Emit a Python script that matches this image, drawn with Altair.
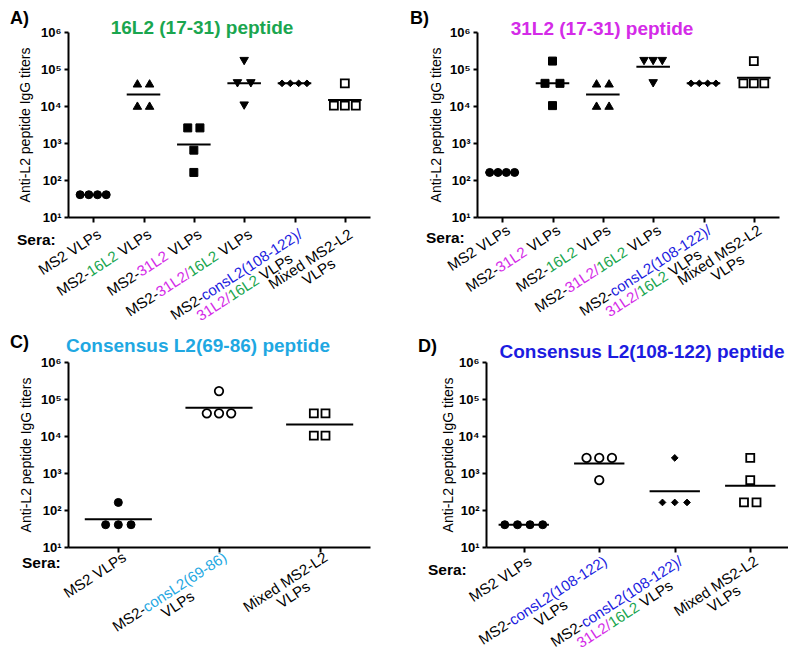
import altair as alt
import pandas as pd

FONT = "Liberation Sans"
COL = {"k": "#000000", "g": "#1aa64f", "m": "#d42be8", "b": "#1c1ce0", "c": "#1fa8e2"}

# ---------------- data ----------------
A_title = ("16L2 (17-31) peptide", "g")
A_labels = [
    [[("MS2 VLPs", "k")]],
    [[("MS2-", "k"), ("16L2", "g"), (" VLPs", "k")]],
    [[("MS2-", "k"), ("31L2", "m"), (" VLPs", "k")]],
    [[("MS2-", "k"), ("31L2/", "m"), ("16L2", "g"), (" VLPs", "k")]],
    [[("MS2-", "k"), ("consL2(108-122)/", "b")], [("31L2/", "m"), ("16L2", "g"), (" VLPs", "k")]],
    [[("Mixed MS2-L2", "k")], [("VLPs", "k")]],
]
A_shapes = ["circle", "triangle-up", "square", "triangle-down", "diamond", "square"]
A_open = [False, False, False, False, False, True]
A_values = [
    [40, 40, 40, 40],
    [40960, 40960, 10240, 10240],
    [2560, 2560, 640, 160],
    [163840, 40960, 40960, 10240],
    [40960, 40960, 40960, 40960],
    [40960, 10240, 10240, 10240],
]
A_spread = [
    [-1.5, -0.5, 0.5, 1.5],
    [-0.7, 0.7, -0.7, 0.7],
    [-0.7, 0.7, 0, 0],
    [0, -0.77, 0.77, 0],
    [-1.43, -0.48, 0.48, 1.43],
    [0, -1.26, 0, 1.26],
]

B_title = ("31L2 (17-31) peptide", "m")
B_labels = [
    [[("MS2 VLPs", "k")]],
    [[("MS2-", "k"), ("31L2", "m"), (" VLPs", "k")]],
    [[("MS2-", "k"), ("16L2", "g"), (" VLPs", "k")]],
    [[("MS2-", "k"), ("31L2/", "m"), ("16L2", "g"), (" VLPs", "k")]],
    [[("MS2-", "k"), ("consL2(108-122)/", "b")], [("31L2/", "m"), ("16L2", "g"), (" VLPs", "k")]],
    [[("Mixed MS2-L2", "k")], [("VLPs", "k")]],
]
B_shapes = ["circle", "square", "triangle-up", "triangle-down", "diamond", "square"]
B_open = [False, False, False, False, False, True]
B_values = [
    [160, 160, 160, 160],
    [163840, 40960, 40960, 10240],
    [40960, 40960, 10240, 10240],
    [163840, 163840, 163840, 40960],
    [40960, 40960, 40960, 40960],
    [163840, 40960, 40960, 40960],
]
B_spread = [
    [-1.43, -0.48, 0.48, 1.43],
    [0, -0.86, 0.86, 0],
    [-0.72, 0.72, -0.72, 0.72],
    [-1.05, 0, 1.05, 0],
    [-1.43, -0.48, 0.48, 1.43],
    [0, -1.2, 0, 1.2],
]

C_title = ("Consensus L2(69-86) peptide", "c")
C_labels = [
    [[("MS2 VLPs", "k")]],
    [[("MS2-", "k"), ("consL2(69-86)", "c")], [("VLPs", "k")]],
    [[("Mixed MS2-L2", "k")], [("VLPs", "k")]],
]
C_shapes = ["circle", "circle", "square"]
C_open = [False, True, True]
C_values = [
    [160, 40, 40, 40],
    [163840, 40960, 40960, 40960],
    [40960, 40960, 10240, 10240],
]
C_spread = [
    [0, -1.46, 0, 1.46],
    [0, -1.4, 0, 1.4],
    [-0.67, 0.67, -0.67, 0.67],
]

D_title = ("Consensus L2(108-122) peptide", "b")
D_labels = [
    [[("MS2 VLPs", "k")]],
    [[("MS2-", "k"), ("consL2(108-122)", "b")], [("VLPs", "k")]],
    [[("MS2-", "k"), ("consL2(108-122)/", "b")], [("31L2/", "m"), ("16L2", "g"), (" VLPs", "k")]],
    [[("Mixed MS2-L2", "k")], [("VLPs", "k")]],
]
D_shapes = ["circle", "circle", "diamond", "square"]
D_open = [False, True, False, True]
D_values = [
    [40, 40, 40, 40],
    [2560, 2560, 2560, 640],
    [2560, 160, 160, 160],
    [2560, 640, 160, 160],
]
D_spread = [
    [-2.18, -0.72, 0.72, 2.18],
    [-1.46, 0, 1.46, 0],
    [0, -1.41, 0, 1.41],
    [0, 0, -0.72, 0.72],
]

Y_TITLE = "Anti-L2 peptide IgG titers"
SERA = "Sera:"

# ---------------- styling / layout ----------------
W, H = 302, 185
UNIT = 8.7           # px per spread unit
LBL_SIZE = 15
LINE_H = 15
ANGLE = 33
SHIFT = 9            # screen px right of tick for label end
BASE_DX = SHIFT * 0.8387
BASE_DY = SHIFT * 0.5446

ARIAL = {' ': 278, '(': 333, ')': 333, '-': 333, '/': 278, ':': 278,
         'A': 667, 'C': 722, 'G': 778, 'I': 278, 'L': 556, 'M': 833, 'P': 667,
         'S': 667, 'V': 667, 'a': 556, 'c': 500, 'd': 556, 'e': 556, 'g': 556,
         'i': 222, 'n': 556, 'o': 556, 'p': 556, 'r': 333, 's': 500, 't': 278,
         'u': 556, 'x': 500}


def tw(s):
    return sum(ARIAL.get(ch, 556) for ch in s) / 1000.0 * LBL_SIZE


SIZES_FILLED = {"circle": 64, "square": 64, "triangle-up": 72, "triangle-down": 72, "diamond": 45}
SIZES_OPEN = {"circle": 72, "square": 64}

superscripts = "['\u2070','\u00b9','\u00b2','\u00b3','\u2074','\u2075','\u2076']"


def panel(title, labels, shapes, opens, values, spread, lay):
    n = len(labels)
    ppc = W / n
    rows = []
    for ci, (vals, spr) in enumerate(zip(values, spread)):
        for v, s in zip(vals, spr):
            op = opens[ci]
            rows.append({
                "cat": ci, "value": v, "xp": ci + s * UNIT / ppc,
                "shape": shapes[ci],
                "fillc": "white" if op else "black",
                "sz": (SIZES_OPEN if op else SIZES_FILLED)[shapes[ci]],
                "sw": 1.8 if op else 1.0,
            })
    df = pd.DataFrame(rows)
    xs = alt.Scale(domain=[-0.5, n - 0.5], nice=False, zero=False)
    ys = alt.Scale(type="log", domain=[10, 1e6], nice=False)
    xaxis = alt.Axis(values=list(range(n)), labels=False, title=None, grid=False,
                     tickSize=5, tickWidth=2, tickColor="black",
                     domainWidth=2, domainColor="black")
    yaxis = alt.Axis(values=[10, 100, 1000, 10000, 100000, 1000000],
                     labelExpr="'10' + " + superscripts + "[round(log(datum.value)/LN10)]",
                     grid=False, tickSize=4, tickWidth=2, tickColor="black",
                     domainWidth=2, domainColor="black",
                     labelFont=FONT, labelFontSize=13, labelFontWeight="bold",
                     labelColor="black", labelPadding=3,
                     title=Y_TITLE, titleFont=FONT, titleFontSize=14,
                     titleFontWeight="normal", titleColor="black",
                     titlePadding=lay["ytp"])

    points = alt.Chart(df).mark_point(filled=True, opacity=1, stroke="black").encode(
        x=alt.X("xp:Q", scale=xs, axis=xaxis),
        y=alt.Y("value:Q", scale=ys, axis=yaxis),
        shape=alt.Shape("shape:N", scale=None),
        fill=alt.Fill("fillc:N", scale=None),
        size=alt.Size("sz:Q", scale=None),
        strokeWidth=alt.StrokeWidth("sw:Q", scale=None),
    )
    means = alt.Chart(df).transform_calculate(
        lg="log(datum.value)/LN10"
    ).transform_aggregate(
        mlg="mean(lg)", groupby=["cat"]
    ).transform_calculate(
        gm="pow(10, datum.mlg)", x1="datum.cat - 1/3", x2="datum.cat + 1/3"
    ).mark_rule(color="black", strokeWidth=2).encode(
        x=alt.X("x1:Q", scale=xs, title=None), x2="x2:Q",
        y=alt.Y("gm:Q", scale=ys, title=Y_TITLE),
    )
    layers = [points, means]

    # category labels (multi-coloured, rotated)
    for ci, lines in enumerate(labels):
        widths = [sum(tw(t) for t, _ in line) for line in lines]
        block = max(widths)
        for li, line in enumerate(lines):
            pos = -block / 2 - widths[li] / 2
            for t, ck in line:
                lead = len(t) - len(t.lstrip(" "))
                core = t.strip(" ")
                start = pos + tw(" " * lead)
                layers.append(
                    alt.Chart(pd.DataFrame({"cat": [ci], "t": [core]})).mark_text(
                        align="left", baseline="alphabetic", angle=360 - ANGLE,
                        dx=BASE_DX + start, dy=BASE_DY + li * LINE_H,
                        font=FONT, fontSize=LBL_SIZE, color=COL[ck],
                    ).encode(x=alt.X("cat:Q", scale=xs, title=None),
                             y=alt.value(H + lay["lb"]), text="t:N")
                )
                pos += tw(t)

    ttext, tcol = title
    layers.append(alt.Chart(pd.DataFrame({"t": [ttext]})).mark_text(
        font=FONT, fontSize=19, fontWeight="bold", color=COL[tcol],
        align="center", baseline="middle").encode(
        x=alt.value(lay["tx"]), y=alt.value(lay["ty"]), text="t:N"))
    layers.append(alt.Chart(pd.DataFrame({"t": [lay["letter"]]})).mark_text(
        font=FONT, fontSize=18, fontWeight="bold", color="black",
        align="left", baseline="top").encode(
        x=alt.value(lay["lx"]), y=alt.value(lay["ly"]), text="t:N"))
    layers.append(alt.Chart(pd.DataFrame({"t": [SERA]})).mark_text(
        font=FONT, fontSize=15.5, fontWeight="bold", color="black",
        align="left", baseline="alphabetic").encode(
        x=alt.value(lay["sx"]), y=alt.value(H + lay["sy"]), text="t:N"))

    return alt.layer(*layers).properties(width=W, height=H)


pA = panel(A_title, A_labels, A_shapes, A_open, A_values, A_spread,
           dict(tx=134, ty=-4, letter="A)", lx=-58, ly=-22, sx=-51, sy=28, ytp=8, lb=20))
pB = panel(B_title, B_labels, B_shapes, B_open, B_values, B_spread,
           dict(tx=125, ty=-3, letter="B)", lx=-67, ly=-22, sx=-51, sy=26, ytp=6, lb=16))
pC = panel(C_title, C_labels, C_shapes, C_open, C_values, C_spread,
           dict(tx=130, ty=-16, letter="C)", lx=-58, ly=-28, sx=-46, sy=21, ytp=7, lb=13))
pD = panel(D_title, D_labels, D_shapes, D_open, D_values, D_spread,
           dict(tx=156, ty=-10, letter="D)", lx=-68, ly=-24, sx=-58, sy=28, ytp=3, lb=17))

row1 = alt.hconcat(pA, pB, spacing=107, bounds="flush")
row2 = alt.hconcat(pC, pD, spacing=116, bounds="flush")
chart = alt.vconcat(row1, row2, spacing=H + 145, bounds="flush").configure_view(
    stroke=None
).properties(padding={"left": 2, "top": 2, "right": 0, "bottom": 0}, background="white")

chart.save("out.html", embed_options={"renderer": "svg", "actions": False})
